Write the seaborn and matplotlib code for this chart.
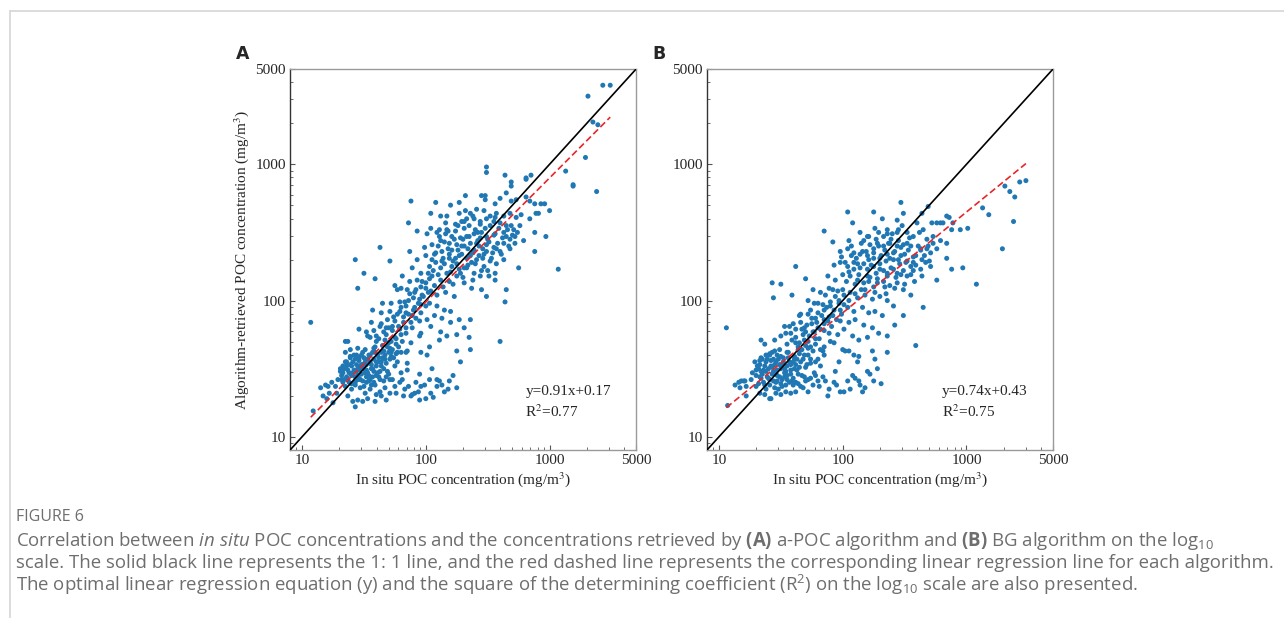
import numpy as np
import pandas as pd
import matplotlib
matplotlib.use("Agg")
import matplotlib.pyplot as plt
import seaborn as sns
from matplotlib.lines import Line2D
from matplotlib.ticker import LogLocator, NullFormatter

# point positions, in log10(mg/m3): (in situ, retrieved)
points_a = [
    # upper part
    (2.69, 2.87), (2.69, 2.84), (2.81, 2.89), (3.19, 2.85), (1.88, 2.73), (2.08, 2.72), (2.20, 2.70),
    (2.27, 2.72), (2.32, 2.77), (2.45, 2.77), (2.48, 2.77), (2.48, 2.74), (2.56, 2.71), (2.60, 2.75),
    (2.65, 2.79), (2.69, 2.73), (2.73, 2.74), (2.81, 2.76), (2.84, 2.73), (2.88, 2.71), (2.93, 2.71),
    (2.96, 2.71), (3.00, 2.66), (2.84, 2.60), (2.89, 2.64), (2.91, 2.64), (2.04, 2.64), (2.12, 2.62),
    (2.17, 2.62), (2.27, 2.64), (2.32, 2.66), (2.36, 2.64), (2.41, 2.67), (2.47, 2.66), (2.52, 2.62),
    (2.57, 2.64), (2.63, 2.62), (2.68, 2.64), (2.73, 2.61), (2.77, 2.63), (1.86, 2.57), (2.16, 2.57),
    (2.24, 2.56), (2.29, 2.58), (2.33, 2.60), (2.39, 2.60), (2.44, 2.58), (2.49, 2.60), (2.55, 2.58),
    (2.60, 2.57), (2.65, 2.55), (2.71, 2.52), (2.76, 2.55), (2.88, 2.50), (2.97, 2.47), (2.04, 2.53),
    (2.11, 2.52), (2.17, 2.52), (2.24, 2.51), (2.31, 2.53),
    (2.64, 2.92), (2.49, 2.98), (2.49, 2.94), (2.81, 2.90), (2.85, 2.92), (3.13, 2.95), (3.29, 3.05),
    (3.19, 2.84), (3.38, 2.80), (3.35, 3.31), (3.39, 3.29), (3.31, 3.50), (3.43, 3.58), (3.49, 3.58),
    # upper band
    (1.93, 2.51), (2.01, 2.49), (2.09, 2.50), (2.16, 2.49), (2.21, 2.47), (2.28, 2.46), (2.33, 2.47),
    (2.39, 2.49), (2.44, 2.46), (2.49, 2.47), (2.56, 2.49), (2.63, 2.50), (2.68, 2.45), (2.72, 2.42),
    (2.79, 2.44), (1.63, 2.39), (1.87, 2.36), (1.99, 2.39), (2.05, 2.41), (2.12, 2.44), (2.19, 2.42),
    (2.25, 2.41), (2.31, 2.40), (2.36, 2.42), (2.43, 2.40), (2.49, 2.41), (2.55, 2.39), (2.60, 2.36),
    (2.68, 2.38), (2.75, 2.24), (2.88, 2.36), (3.07, 2.23), (1.43, 2.30), (1.71, 2.29), (1.50, 2.20),
    (1.59, 2.16), (1.45, 2.09), (1.89, 2.24), (1.93, 2.30), (2.00, 2.33), (2.07, 2.34), (2.13, 2.36),
    (2.19, 2.34), (2.24, 2.31), (2.29, 2.34), (2.36, 2.33), (2.41, 2.30), (2.47, 2.34), (2.52, 2.29),
    (2.57, 2.27), (2.63, 2.30), (1.96, 2.20), (2.03, 2.25), (2.08, 2.28), (2.15, 2.27), (2.21, 2.25),
    (2.27, 2.23), (2.33, 2.24), (2.39, 2.20), (2.45, 2.22), (2.51, 2.18), (2.56, 2.15), (1.81, 2.18),
    (1.87, 2.14), (1.93, 2.15), (2.00, 2.13), (2.05, 2.18), (2.12, 2.15), (2.19, 2.14), (2.25, 2.18),
    (2.31, 2.13), (2.37, 2.09), (2.45, 2.08), (2.49, 2.03), (2.65, 2.08), (2.64, 1.99), (2.60, 1.70),
    (2.05, 2.30), (2.10, 2.40), (2.14, 2.31), (2.18, 2.38), (2.22, 2.29), (2.26, 2.37), (2.30, 2.45),
    (2.34, 2.38), (2.38, 2.35), (2.42, 2.44), (2.46, 2.38), (2.50, 2.45), (2.54, 2.35), (2.58, 2.42),
    (2.62, 2.46), (2.66, 2.52), (2.70, 2.48), (2.35, 2.55), (2.40, 2.52), (2.44, 2.56), (2.52, 2.55),
    (2.56, 2.61), (2.28, 2.20), (2.34, 2.26), (2.40, 2.27), (2.46, 2.31), (2.20, 2.21), (2.12, 2.24),
    (2.02, 2.20), (1.96, 2.10), (1.90, 2.02), (1.86, 2.00), (1.80, 1.95), (1.95, 2.01), (2.00, 2.09),
    (2.03, 2.16), (2.06, 2.22), (2.08, 2.35), (2.10, 2.19), (2.13, 2.29), (2.15, 2.43), (2.17, 2.20),
    (2.19, 2.31), (2.21, 2.37), (2.23, 2.45), (2.25, 2.27), (2.27, 2.33), (2.29, 2.40), (2.31, 2.24),
    (2.33, 2.31), (2.35, 2.47), (2.37, 2.28), (2.39, 2.37), (2.41, 2.42), (2.43, 2.33), (2.45, 2.50),
    (2.47, 2.25), (2.49, 2.36), (2.51, 2.43), (2.53, 2.31), (2.55, 2.48), (2.57, 2.38), (2.59, 2.53),
    (2.61, 2.34), (2.63, 2.42), (2.65, 2.47), (2.67, 2.40), (2.69, 2.55), (2.72, 2.47), (2.74, 2.50),
    (2.11, 2.47), (2.18, 2.51), (2.26, 2.55), (2.31, 2.58), (2.38, 2.62), (2.22, 2.12), (2.30, 2.17),
    (2.38, 2.15), (2.44, 2.18), (2.50, 2.22), (2.56, 2.20), (2.14, 2.10), (2.07, 2.11), (2.42, 2.50),
    (2.48, 2.53),
    # middle
    (1.75, 2.11), (1.77, 2.08), (1.80, 2.09), (1.85, 2.08), (1.91, 2.06), (1.97, 2.04), (2.04, 2.07),
    (2.09, 2.04), (2.16, 2.06), (2.23, 2.03), (1.65, 1.98), (1.72, 1.98), (1.79, 1.99), (1.84, 1.96),
    (1.91, 1.95), (1.96, 1.97), (2.03, 1.98), (2.09, 1.96), (2.15, 1.93), (2.20, 1.92), (1.57, 1.93),
    (1.64, 1.91), (1.71, 1.92), (1.77, 1.90), (1.84, 1.91), (1.89, 1.89), (1.95, 1.85), (2.01, 1.86),
    (2.07, 1.89), (2.13, 1.87), (2.20, 1.84), (2.27, 1.86), (2.36, 1.86), (2.31, 1.80), (1.46, 1.79),
    (1.52, 1.77), (1.56, 1.84), (1.63, 1.81), (1.68, 1.80), (1.73, 1.81), (1.79, 1.79), (1.84, 1.76),
    (1.89, 1.80), (1.96, 1.76), (2.04, 1.81), (2.12, 1.77), (2.17, 1.74), (2.25, 1.75), (1.53, 1.74),
    (1.60, 1.74), (1.67, 1.71), (1.75, 1.73), (1.81, 1.70), (1.88, 1.69), (1.95, 1.74), (2.03, 1.66),
    (2.11, 1.71), (1.35, 1.70), (1.37, 1.70), (1.45, 1.65), (1.51, 1.64), (1.59, 1.66), (1.64, 1.62),
    (1.71, 1.65), (1.77, 1.62), (1.85, 1.63), (1.96, 1.62), (2.01, 1.60), (2.25, 1.63), (2.36, 1.64),
    (2.35, 1.73), (1.75, 1.85), (1.70, 1.80), (1.66, 1.77), (1.82, 1.84), (1.60, 1.70),
    (1.62, 1.72), (1.65, 1.67), (1.68, 1.75), (1.70, 1.69), (1.73, 1.78), (1.76, 1.72), (1.78, 1.81),
    (1.80, 1.75), (1.82, 1.88), (1.84, 1.80), (1.86, 1.90), (1.88, 1.84), (1.90, 1.93), (1.92, 1.87),
    (1.94, 1.98), (1.96, 1.91), (1.98, 2.03), (2.00, 1.96), (2.02, 2.06), (1.74, 1.88), (1.79, 1.92),
    (1.83, 1.99), (1.87, 2.05), (1.92, 2.08), (1.97, 2.14), (1.69, 1.86), (1.64, 1.83), (1.58, 1.78),
    (1.55, 1.73), (1.72, 1.62),
    # lower cluster
    (1.27, 1.37), (1.28, 1.32), (1.29, 1.42), (1.31, 1.48), (1.33, 1.52), (1.36, 1.55), (1.39, 1.59),
    (1.40, 1.52), (1.43, 1.57), (1.44, 1.48), (1.45, 1.42), (1.48, 1.60), (1.49, 1.53), (1.51, 1.47),
    (1.53, 1.57), (1.55, 1.42), (1.56, 1.50), (1.57, 1.62), (1.60, 1.55), (1.61, 1.47), (1.64, 1.52),
    (1.67, 1.57), (1.69, 1.48), (1.71, 1.42), (1.72, 1.59), (1.75, 1.52), (1.77, 1.55), (1.80, 1.47),
    (1.81, 1.42), (1.84, 1.62), (1.85, 1.54), (1.32, 1.42), (1.35, 1.37), (1.37, 1.42), (1.40, 1.35),
    (1.43, 1.40), (1.47, 1.36), (1.51, 1.32), (1.55, 1.35), (1.59, 1.38), (1.63, 1.33), (1.67, 1.36),
    (1.71, 1.32), (1.75, 1.37), (1.79, 1.40), (1.83, 1.35), (1.37, 1.30), (1.41, 1.26), (1.43, 1.22),
    (1.45, 1.27), (1.49, 1.26), (1.53, 1.28), (1.59, 1.26), (1.64, 1.30), (1.68, 1.27), (1.60, 1.31),
    (1.92, 1.40), (1.95, 1.46), (1.88, 1.30), (1.89, 1.31), (1.96, 1.37), (2.00, 1.28), (2.04, 1.32),
    (2.09, 1.37), (2.13, 1.38), (2.15, 1.33), (2.09, 1.42), (2.19, 1.41), (2.25, 1.36), (2.03, 1.42),
    (1.91, 1.32), (1.95, 1.27), (1.35, 1.62), (1.39, 1.64), (1.47, 1.49), (1.52, 1.44), (1.57, 1.44),
    (1.63, 1.42), (1.68, 1.44), (1.73, 1.42), (1.76, 1.32), (1.85, 1.49), (1.80, 1.62),
    (1.32, 1.45), (1.34, 1.50), (1.36, 1.44), (1.38, 1.47), (1.40, 1.45), (1.41, 1.55), (1.42, 1.49),
    (1.44, 1.53), (1.45, 1.45), (1.46, 1.56), (1.47, 1.52), (1.48, 1.46), (1.50, 1.50), (1.50, 1.58),
    (1.52, 1.53), (1.53, 1.47), (1.54, 1.60), (1.55, 1.55), (1.57, 1.50), (1.58, 1.57), (1.60, 1.52),
    (1.61, 1.60), (1.62, 1.55), (1.63, 1.48), (1.65, 1.58), (1.66, 1.63), (1.38, 1.40), (1.43, 1.38),
    (1.47, 1.42), (1.52, 1.40), (1.56, 1.38), (1.33, 1.40), (1.36, 1.52), (1.39, 1.58), (1.44, 1.60),
    (1.49, 1.62), (1.58, 1.65), (1.69, 1.66), (1.72, 1.70), (1.76, 1.68),
    (1.31, 1.50), (1.33, 1.47), (1.35, 1.55), (1.37, 1.49), (1.39, 1.53), (1.41, 1.47), (1.42, 1.60),
    (1.43, 1.44), (1.45, 1.50), (1.46, 1.58), (1.48, 1.53), (1.49, 1.41), (1.51, 1.55), (1.52, 1.49),
    (1.54, 1.45), (1.55, 1.60), (1.56, 1.53), (1.58, 1.48), (1.59, 1.62), (1.60, 1.45), (1.62, 1.58),
    (1.64, 1.55), (1.66, 1.50), (1.67, 1.60), (1.68, 1.54), (1.70, 1.62), (1.71, 1.57), (1.73, 1.64),
    (1.74, 1.58), (1.76, 1.61), (1.34, 1.42), (1.40, 1.39), (1.46, 1.43), (1.50, 1.37), (1.54, 1.41),
    (1.58, 1.40), (1.62, 1.44), (1.66, 1.41), (1.70, 1.46), (1.78, 1.66),
    (1.82, 1.30), (1.86, 1.37), (1.94, 1.33), (1.99, 1.38), (2.06, 1.29), (2.11, 1.41), (2.18, 1.35),
    (2.22, 1.45), (2.28, 1.55), (2.05, 1.50),
    # far left
    (1.07, 1.84), (1.09, 1.19), (1.17, 1.30), (1.19, 1.38), (1.21, 1.37), (1.22, 1.32), (1.15, 1.36),
    (1.24, 1.40), (1.20, 1.28), (1.25, 1.25),
]

points_b = [
    # upper part
    (2.47, 2.72), (2.04, 2.65), (2.25, 2.65), (2.49, 2.64), (2.64, 2.64), (2.69, 2.69), (2.08, 2.57),
    (2.32, 2.60), (2.44, 2.59), (2.48, 2.55), (2.60, 2.57), (2.65, 2.52), (2.72, 2.57), (2.76, 2.57),
    (2.79, 2.57), (2.81, 2.57), (2.84, 2.62), (2.86, 2.61), (2.89, 2.57), (2.88, 2.52), (2.95, 2.52),
    (3.01, 2.53), (3.08, 2.12), (1.85, 2.51), (1.92, 2.43), (1.62, 2.25), (1.70, 2.16), (1.43, 2.13),
    (1.50, 2.12), (1.44, 2.02), (1.59, 2.04),
    (3.48, 2.88), (3.43, 2.87), (3.31, 2.84), (3.35, 2.80), (3.39, 2.76), (3.38, 2.58), (3.29, 2.38),
    (3.13, 2.68), (3.18, 2.63),
    # upper band
    (2.14, 2.50), (2.20, 2.47), (2.26, 2.53), (2.36, 2.52), (2.40, 2.49), (2.44, 2.50), (2.52, 2.50),
    (2.57, 2.47), (2.68, 2.45), (2.73, 2.47), (2.79, 2.44), (2.84, 2.42), (2.17, 2.44), (2.22, 2.41),
    (2.28, 2.42), (2.33, 2.40), (2.38, 2.42), (2.44, 2.40), (2.49, 2.41), (2.55, 2.40), (2.63, 2.38),
    (2.69, 2.40), (2.76, 2.38), (2.84, 2.31), (2.88, 2.23), (2.97, 2.24), (1.98, 2.36), (2.04, 2.38),
    (2.09, 2.35), (2.14, 2.34), (2.20, 2.33), (2.25, 2.35), (2.30, 2.31), (2.36, 2.34), (2.41, 2.30),
    (2.47, 2.33), (2.52, 2.29), (2.57, 2.28), (2.64, 2.30), (2.71, 2.25), (2.76, 2.15), (2.64, 2.18),
    (1.93, 2.26), (1.98, 2.28), (2.04, 2.25), (2.09, 2.28), (2.14, 2.24), (2.20, 2.23), (2.25, 2.25),
    (2.30, 2.23), (2.36, 2.20), (2.41, 2.23), (2.47, 2.19), (2.52, 2.18), (2.57, 2.22), (1.88, 2.18),
    (1.94, 2.15), (2.00, 2.19), (2.06, 2.18), (2.12, 2.15), (2.17, 2.13), (2.22, 2.17), (2.28, 2.13),
    (2.33, 2.14), (2.38, 2.11), (2.44, 2.13), (2.49, 2.08), (2.55, 2.04), (2.65, 1.95), (2.59, 1.67),
    (2.49, 1.89), (2.42, 1.82),
    (2.02, 2.28), (2.07, 2.33), (2.12, 2.27), (2.16, 2.36), (2.21, 2.30), (2.25, 2.38), (2.30, 2.27),
    (2.34, 2.37), (2.38, 2.31), (2.42, 2.36), (2.46, 2.27), (2.50, 2.34), (2.55, 2.25), (2.59, 2.33),
    (2.63, 2.37), (2.67, 2.28), (2.71, 2.35), (2.27, 2.45), (2.33, 2.47), (2.39, 2.45), (2.45, 2.44),
    (2.52, 2.42), (2.20, 2.18), (2.28, 2.16), (2.36, 2.18), (2.44, 2.20), (2.10, 2.12), (2.00, 2.08),
    (1.94, 2.03), (1.90, 1.99), (1.85, 1.93), (1.80, 1.91), (2.05, 2.00), (1.98, 1.93), (2.15, 2.08),
    (2.25, 2.10), (2.35, 2.05), (1.75, 1.83), (1.70, 1.77), (1.66, 1.84),
    (2.03, 2.14), (2.05, 2.21), (2.07, 2.40), (2.09, 2.23), (2.11, 2.31), (2.13, 2.19), (2.15, 2.42),
    (2.17, 2.27), (2.19, 2.36), (2.21, 2.14), (2.23, 2.26), (2.25, 2.31), (2.27, 2.20), (2.29, 2.40),
    (2.31, 2.33), (2.33, 2.22), (2.35, 2.29), (2.37, 2.42), (2.39, 2.24), (2.41, 2.35), (2.43, 2.17),
    (2.45, 2.30), (2.47, 2.39), (2.49, 2.22), (2.51, 2.28), (2.53, 2.37), (2.55, 2.19), (2.57, 2.32),
    (2.59, 2.26), (2.61, 2.40), (2.63, 2.23), (2.66, 2.33), (2.68, 2.38), (2.70, 2.29), (2.73, 2.42),
    (2.10, 2.05), (2.18, 2.08), (2.26, 2.06), (2.34, 2.10), (2.42, 2.09), (2.50, 2.12), (2.58, 2.14),
    (2.21, 2.47), (2.29, 2.50), (2.36, 2.49), (2.45, 2.52), (2.54, 2.46), (2.62, 2.50), (2.05, 2.44),
    (1.99, 2.32),
    # middle
    (1.76, 2.08), (1.82, 2.06), (1.89, 2.09), (1.96, 2.07), (2.01, 2.04), (2.06, 2.06), (2.12, 2.02),
    (2.18, 2.04), (2.24, 2.01), (2.30, 2.03), (2.36, 2.00), (2.41, 1.96), (1.72, 2.00), (1.77, 1.98),
    (1.84, 1.97), (1.90, 1.96), (1.97, 1.98), (2.04, 1.95), (2.09, 1.92), (2.16, 1.95), (2.21, 1.91),
    (2.26, 1.92), (2.32, 1.89), (1.65, 1.89), (1.72, 1.90), (1.78, 1.87), (1.85, 1.86), (1.92, 1.89),
    (1.98, 1.85), (2.05, 1.84), (2.10, 1.86), (2.17, 1.82), (2.24, 1.80), (2.29, 1.76), (2.36, 1.74),
    (1.57, 1.81), (1.62, 1.79), (1.69, 1.80), (1.76, 1.77), (1.82, 1.79), (1.89, 1.76), (1.96, 1.75),
    (2.01, 1.79), (2.08, 1.74), (2.13, 1.71), (2.20, 1.73), (1.34, 1.71), (1.37, 1.68), (1.45, 1.71),
    (1.50, 1.74), (1.54, 1.76), (1.59, 1.71), (1.65, 1.69), (1.72, 1.70), (1.78, 1.68), (1.85, 1.66),
    (1.93, 1.69), (2.00, 1.64), (2.02, 1.63), (2.05, 1.63), (2.12, 1.55), (2.13, 1.59), (2.24, 1.63),
    (2.26, 1.57), (2.36, 1.62), (1.53, 1.81),
    (1.62, 1.73), (1.64, 1.66), (1.67, 1.79), (1.69, 1.71), (1.71, 1.82), (1.73, 1.74), (1.75, 1.87),
    (1.77, 1.77), (1.79, 1.84), (1.81, 1.72), (1.83, 1.89), (1.85, 1.83), (1.87, 1.95), (1.89, 1.88),
    (1.91, 1.81), (1.93, 1.93), (1.95, 1.86), (1.97, 2.00), (1.99, 1.90), (2.01, 1.97), (1.74, 1.93),
    (1.80, 1.98), (1.86, 2.04), (1.92, 2.08), (1.58, 1.76), (1.55, 1.68), (1.60, 1.83), (1.66, 1.90),
    (1.84, 1.63), (1.90, 1.70),
    # lower cluster
    (1.18, 1.41), (1.21, 1.41), (1.22, 1.37), (1.29, 1.55), (1.33, 1.53), (1.35, 1.57), (1.38, 1.48),
    (1.41, 1.60), (1.42, 1.52), (1.43, 1.46), (1.46, 1.55), (1.47, 1.49), (1.50, 1.59), (1.51, 1.53),
    (1.53, 1.44), (1.55, 1.62), (1.57, 1.55), (1.58, 1.49), (1.61, 1.59), (1.62, 1.53), (1.64, 1.46),
    (1.66, 1.64), (1.68, 1.57), (1.70, 1.51), (1.72, 1.60), (1.74, 1.54), (1.77, 1.47), (1.80, 1.57),
    (1.82, 1.52), (1.85, 1.60), (1.26, 1.42), (1.30, 1.37), (1.34, 1.43), (1.37, 1.38), (1.41, 1.42),
    (1.45, 1.36), (1.47, 1.41), (1.51, 1.37), (1.55, 1.42), (1.60, 1.38), (1.64, 1.39), (1.68, 1.36),
    (1.72, 1.42), (1.76, 1.38), (1.80, 1.41), (1.33, 1.32), (1.37, 1.31), (1.41, 1.28), (1.46, 1.32),
    (1.50, 1.31), (1.54, 1.33), (1.58, 1.32), (1.62, 1.33), (1.42, 1.28), (1.72, 1.33), (1.86, 1.41),
    (1.89, 1.35), (1.94, 1.48), (1.93, 1.40), (1.98, 1.33), (2.04, 1.41), (2.06, 1.35), (2.10, 1.43),
    (2.13, 1.41), (2.14, 1.38), (2.20, 1.48), (2.18, 1.36), (2.25, 1.41), (1.30, 1.49), (1.34, 1.48),
    (1.39, 1.57), (1.45, 1.63), (1.49, 1.44), (1.54, 1.48), (1.60, 1.43), (1.65, 1.51), (1.69, 1.44),
    (1.74, 1.43), (1.81, 1.37), (1.84, 1.44),
    (1.30, 1.45), (1.32, 1.50), (1.35, 1.46), (1.37, 1.52), (1.39, 1.44), (1.40, 1.50), (1.42, 1.56),
    (1.44, 1.48), (1.45, 1.53), (1.47, 1.45), (1.48, 1.57), (1.50, 1.50), (1.52, 1.55), (1.53, 1.47),
    (1.55, 1.52), (1.56, 1.58), (1.58, 1.46), (1.60, 1.55), (1.61, 1.50), (1.63, 1.57), (1.65, 1.61),
    (1.36, 1.40), (1.41, 1.38), (1.46, 1.40), (1.51, 1.42), (1.57, 1.40), (1.27, 1.47), (1.33, 1.56),
    (1.38, 1.60), (1.43, 1.62), (1.49, 1.64), (1.67, 1.64), (1.70, 1.67), (1.74, 1.66), (1.78, 1.72),
    (1.62, 1.69), (1.68, 1.75), (1.80, 1.80), (1.85, 1.78), (1.88, 1.85),
    (1.31, 1.52), (1.33, 1.44), (1.34, 1.58), (1.36, 1.49), (1.38, 1.55), (1.40, 1.43), (1.41, 1.61),
    (1.43, 1.51), (1.44, 1.57), (1.46, 1.46), (1.47, 1.60), (1.49, 1.53), (1.50, 1.39), (1.52, 1.58),
    (1.53, 1.50), (1.55, 1.45), (1.56, 1.62), (1.58, 1.53), (1.59, 1.41), (1.61, 1.57), (1.63, 1.49),
    (1.64, 1.64), (1.66, 1.55), (1.67, 1.45), (1.69, 1.60), (1.71, 1.53), (1.72, 1.65), (1.74, 1.57),
    (1.76, 1.63), (1.78, 1.55), (1.32, 1.39), (1.38, 1.35), (1.44, 1.41), (1.48, 1.35), (1.54, 1.38),
    (1.62, 1.40), (1.66, 1.37), (1.70, 1.41), (1.78, 1.45), (1.82, 1.64),
    (1.88, 1.30), (1.95, 1.38), (2.01, 1.33), (2.08, 1.45), (2.16, 1.33), (2.22, 1.46), (2.28, 1.50),
    (2.31, 1.39), (1.97, 1.55), (2.09, 1.60),
    # far left
    (1.06, 1.80), (1.07, 1.23), (1.16, 1.40), (1.17, 1.36), (1.20, 1.41), (1.13, 1.38), (1.22, 1.30),
]

panel_labels = ["A", "B"]
slopes = [0.91, 0.74]
intercepts = [0.17, 0.43]
r2_values = [0.77, 0.75]
tick_values = [10, 100, 1000, 5000]
axis_min, axis_max = 8, 5000

sns.set_style("white")
plt.rcParams["font.family"] = ["Liberation Serif", "DejaVu Serif"]
plt.rcParams["mathtext.fontset"] = "custom"
plt.rcParams["mathtext.rm"] = "Open Sans"
plt.rcParams["mathtext.it"] = "Open Sans:italic"
plt.rcParams["mathtext.bf"] = "Open Sans:bold"

fig = plt.figure(figsize=(12.84, 6.18), dpi=100)
axes = [fig.add_axes([0.2259, 0.2718, 0.2695, 0.6165]),
        fig.add_axes([0.5506, 0.2718, 0.2695, 0.6165])]

for ax, pts, lab, k, b, r2 in zip(axes, [points_a, points_b], panel_labels, slopes, intercepts, r2_values):
    arr = np.array(pts)
    df = pd.DataFrame({"insitu": 10 ** arr[:, 0], "retrieved": 10 ** arr[:, 1]})
    sns.scatterplot(data=df, x="insitu", y="retrieved", ax=ax, s=13, color="#1f77b4",
                    edgecolor="none", linewidth=0, zorder=2)
    ax.set_xscale("log")
    ax.set_yscale("log")
    ax.set_xlim(axis_min, axis_max)
    ax.set_ylim(axis_min, axis_max)

    # 1:1 line and regression line (log10 space)
    ax.plot([axis_min, axis_max], [axis_min, axis_max], color="black", lw=1.2, zorder=3)
    lx = np.array([arr[:, 0].min(), arr[:, 0].max()])
    ax.plot(10 ** lx, 10 ** (k * lx + b), color="#e8262a", lw=1.2, ls=(0, (4, 2)), zorder=4)

    for axis in (ax.xaxis, ax.yaxis):
        axis.set_major_locator(plt.FixedLocator(tick_values))
        axis.set_minor_locator(LogLocator(base=10, subs=np.arange(2, 10)))
        axis.set_minor_formatter(NullFormatter())
    ax.set_xticklabels([str(t) for t in tick_values])
    ax.set_yticklabels([str(t) for t in tick_values])
    ax.tick_params(which="both", direction="in", left=True, bottom=True, top=False, right=False,
                   labelsize=11, pad=3, color="#555555")
    ax.tick_params(which="major", length=3.5, width=0.8)
    ax.tick_params(which="minor", length=2, width=0.6)

    for side, sp in ax.spines.items():
        sp.set_linewidth(1.0)
        sp.set_color("#333333" if side == "left" else "#9a9a9a")

    ax.set_xlabel("In situ POC concentration (mg/m$^3$)", fontsize=11, labelpad=2, math_fontfamily="stix")
    if lab == "A":
        ax.set_ylabel("Algorithm-retrieved POC concentration (mg/m$^3$)", fontsize=11, labelpad=3,
                      math_fontfamily="stix")
    else:
        ax.set_ylabel("")

    ax.text(0.68, 0.153, f"y={k:.2f}x+{b:.2f}", transform=ax.transAxes, fontsize=11, va="center")
    ax.text(0.68, 0.100, f"R$^2$={r2:.2f}", transform=ax.transAxes, fontsize=11, va="center",
            math_fontfamily="stix")

    x0 = ax.get_position().x0
    fig.text(x0 - 0.037, 0.9126, lab, fontsize=12.5, fontweight="bold", family="DejaVu Sans",
             va="center", ha="center")

# frame lines of the figure panel
fig.add_artist(Line2D([0.0078, 1.0], [0.982, 0.982], color="#d6d6d6", lw=1.2))
fig.add_artist(Line2D([0.0078, 0.0078], [0.0, 0.982], color="#d6d6d6", lw=1.2))

cap = dict(family="Open Sans", color="#6e6e6e", va="center", ha="left")
fig.text(0.0125, 0.1634, "FIGURE 6", fontsize=11.5, **cap)
fig.text(0.0125, 0.1245,
         r"Correlation between $\mathit{in\ situ}$ POC concentrations and the concentrations retrieved by "
         r"$\mathbf{(A)}$ a-POC algorithm and $\mathbf{(B)}$ BG algorithm on the log$_{10}$",
         fontsize=13.4, math_fontfamily="custom", **cap)
fig.text(0.0125, 0.0890,
         "scale. The solid black line represents the 1: 1 line, and the red dashed line represents the "
         "corresponding linear regression line for each algorithm.",
         fontsize=13.4, **cap)
fig.text(0.0125, 0.0535,
         r"The optimal linear regression equation (y) and the square of the determining coefficient "
         r"(R$^2$) on the log$_{10}$ scale are also presented.",
         fontsize=13.4, math_fontfamily="custom", **cap)

fig.savefig("out.png", dpi=100)
